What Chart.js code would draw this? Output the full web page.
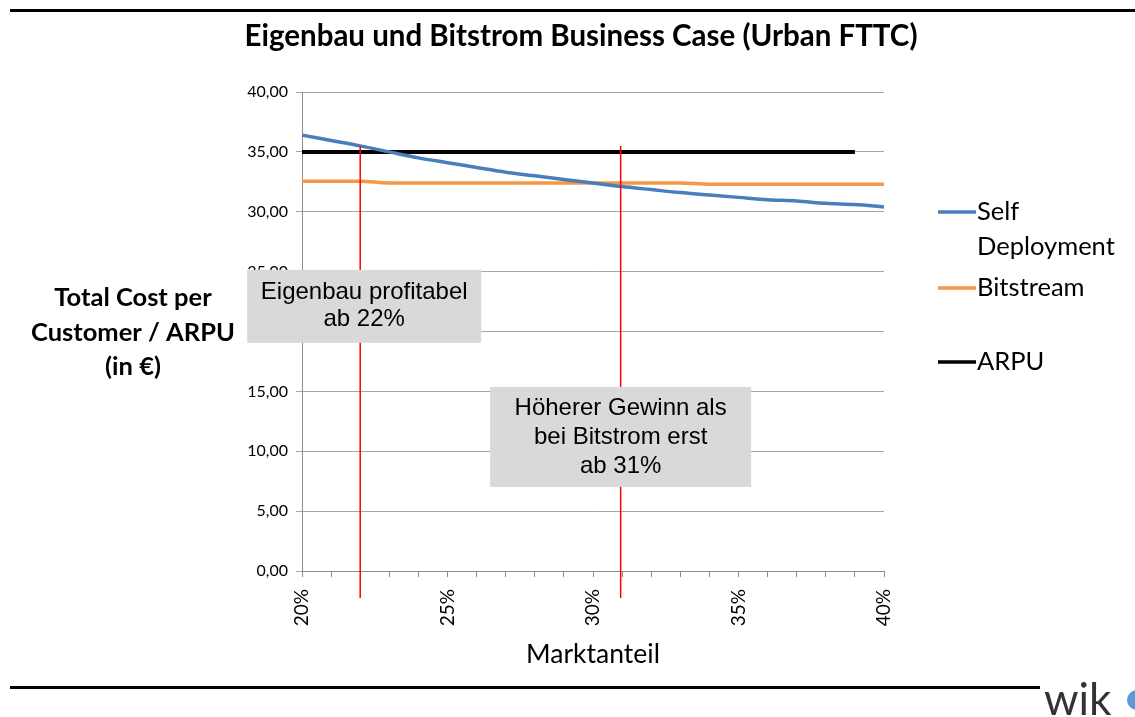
<!DOCTYPE html>
<html>
<head>
<meta charset="utf-8">
<script src="https://cdn.jsdelivr.net/npm/chart.js"></script>
<style>
  html, body { margin: 0; padding: 0; background: #fff; }
  #wrap { width: 1135px; height: 717px; position: relative; }
</style>
</head>
<body>
<div id="wrap"><canvas id="chart"></canvas></div>
<script>
// Marktanteil in %
const shares = [20, 21, 22, 23, 24, 25, 26, 27, 28, 29, 30, 31, 32, 33, 34, 35, 36, 37, 38, 39, 40];
const selfDeployment = [36.4, 35.95, 35.5, 35.0, 34.5, 34.1, 33.7, 33.3, 33.0, 32.7, 32.4, 32.1, 31.85, 31.6, 31.4, 31.2, 31.0, 30.9, 30.7, 30.6, 30.4];
const bitstream = [32.55, 32.55, 32.55, 32.4, 32.4, 32.4, 32.4, 32.4, 32.4, 32.4, 32.4, 32.4, 32.4, 32.4, 32.3, 32.3, 32.3, 32.3, 32.3, 32.3, 32.3];
const arpu = [35, 35, 35, 35, 35, 35, 35, 35, 35, 35, 35, 35, 35, 35, 35, 35, 35, 35, 35, 35, null];
const labeledShares = [20, 25, 30, 35, 40];

// red marker lines (market share) and the notes sitting on them
const markers = [22.0, 30.95];
const notes = [
  { share: 22.0, value: 22.1, lines: ['Eigenbau profitabel', 'ab 22%'], w: 234, h: 73, dx: 4 },
  { share: 30.95, value: 11.2, lines: ['Höherer Gewinn als', 'bei Bitstrom erst', 'ab 31%'], w: 261, h: 100, dx: 0 }
];

const calibri = 'Lato, "Open Sans", sans-serif';

const decorations = {
  id: 'decorations',
  afterDraw(chart) {
    const { ctx, chartArea, scales } = chart;
    const x = scales.x, y = scales.y;
    ctx.save();

    // frame lines
    ctx.fillStyle = '#000';
    ctx.fillRect(10, 9, 1125, 3);
    ctx.fillRect(10, 686, 1030, 3);

    // title
    ctx.font = 'bold 29.5px ' + calibri;
    ctx.textAlign = 'center';
    ctx.textBaseline = 'middle';
    ctx.fillText('Eigenbau und Bitstrom Business Case (Urban FTTC)', 581, 36);

    // y axis title
    ctx.font = 'bold 25.5px ' + calibri;
    ['Total Cost per', 'Customer / ARPU', '(in €)'].forEach((t, i) => {
      ctx.fillText(t, 133, 298 + i * 34.5);
    });

    // marker lines
    ctx.strokeStyle = '#ff0000';
    ctx.lineWidth = 1.5;
    markers.forEach(m => {
      const px = x.getPixelForValue(m - shares[0]);
      ctx.beginPath();
      ctx.moveTo(px, y.getPixelForValue(35.5));
      ctx.lineTo(px, chartArea.bottom + 27);
      ctx.stroke();
    });

    // notes
    notes.forEach(n => {
      const cx = x.getPixelForValue(n.share - shares[0]) + n.dx;
      const cy = y.getPixelForValue(n.value);
      ctx.fillStyle = '#d9d9d9';
      ctx.fillRect(cx - n.w / 2, cy - n.h / 2, n.w, n.h);
      ctx.fillStyle = '#000';
      ctx.font = '24px "Liberation Sans", Arial, sans-serif';
      const lh = n.lines.length > 2 ? 29 : 27;
      const top = cy - (n.lines.length - 1) * lh / 2;
      n.lines.forEach((t, i) => ctx.fillText(t, cx, top + i * lh));
    });

    // legend
    const legendRows = [
      { color: '#4a7ebb', lines: ['Self', 'Deployment'], y: 212 },
      { color: '#f79646', lines: ['Bitstream'], y: 288 },
      { color: '#000000', lines: ['ARPU'], y: 362 }
    ];
    ctx.textAlign = 'left';
    ctx.font = '25.5px ' + calibri;
    legendRows.forEach(r => {
      ctx.strokeStyle = r.color;
      ctx.lineWidth = 3.5;
      ctx.beginPath();
      ctx.moveTo(938, r.y);
      ctx.lineTo(976, r.y);
      ctx.stroke();
      ctx.fillStyle = '#000';
      r.lines.forEach((t, i) => ctx.fillText(t, 977, r.y + i * 35));
    });

    // logo
    ctx.fillStyle = '#333';
    ctx.font = '44px "Liberation Sans Narrow", ' + calibri;
    ctx.textBaseline = 'alphabetic';
    ctx.fillText('wik', 1044, 715);
    ctx.fillStyle = '#5b9bd5';
    ctx.beginPath();
    ctx.arc(1137, 700, 10, 0, Math.PI * 2);
    ctx.fill();

    ctx.restore();
  }
};

new Chart(document.getElementById('chart'), {
  type: 'line',
  data: {
    labels: shares.map(s => s + '%'),
    datasets: [
      { label: 'Self Deployment', data: selfDeployment, borderColor: '#4a7ebb', borderWidth: 3.5, pointRadius: 0, cubicInterpolationMode: 'monotone' },
      { label: 'Bitstream', data: bitstream, borderColor: '#f79646', borderWidth: 3.5, pointRadius: 0, cubicInterpolationMode: 'monotone' },
      { label: 'ARPU', data: arpu, borderColor: '#000000', borderWidth: 4, pointRadius: 0, tension: 0 }
    ]
  },
  options: {
    responsive: true,
    maintainAspectRatio: false,
    animation: false,
    layout: { padding: { left: 200, right: 251, top: 92, bottom: 45 } },
    plugins: {
      legend: { display: false },
      tooltip: { enabled: false }
    },
    scales: {
      x: {
        afterFit: s => { s.height = 101; },
        grid: { display: true, drawOnChartArea: false, drawTicks: true, tickLength: 6, color: '#8c8c8c' },
        border: { color: '#8c8c8c' },
        ticks: {
          autoSkip: false,
          minRotation: 90,
          maxRotation: 90,
          padding: 12,
          color: '#000',
          font: { family: calibri, size: 19 },
          callback: (v, i) => labeledShares.includes(shares[i]) ? shares[i] + '%' : ''
        },
        title: { display: true, text: 'Marktanteil', color: '#000', font: { family: calibri, size: 26.5 }, padding: { top: 0, bottom: 2 } }
      },
      y: {
        min: 0,
        max: 40,
        afterFit: s => { s.width = 102; },
        grid: { color: '#a6a6a6', tickLength: 6 },
        border: { color: '#8c8c8c' },
        ticks: {
          stepSize: 5,
          padding: 8,
          color: '#000',
          font: { family: calibri, size: 16 },
          callback: v => v.toFixed(2).replace('.', ',')
        }
      }
    }
  },
  plugins: [decorations]
});
</script>
</body>
</html>
